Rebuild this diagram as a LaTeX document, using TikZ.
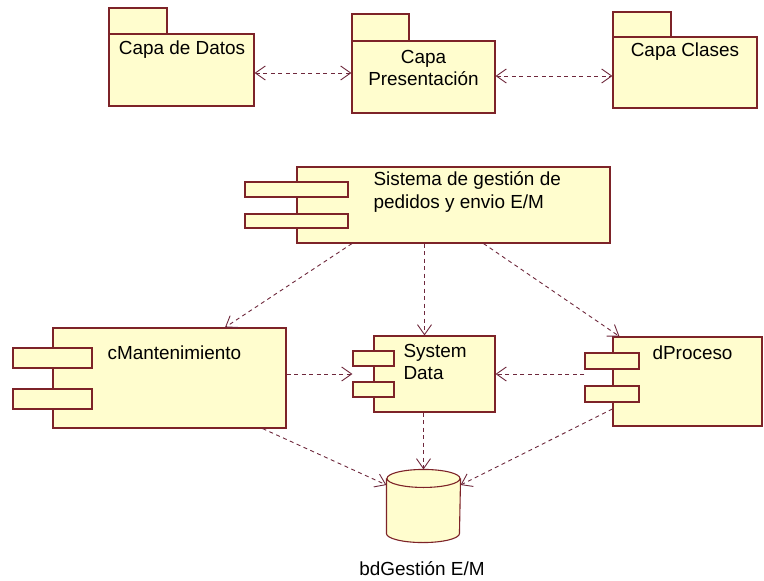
\documentclass[tikz,border=0pt]{standalone}
\usepackage{fontspec}
\setmainfont{Liberation Sans}
\usetikzlibrary{arrows.meta}
\definecolor{umlfill}{RGB}{255,253,206}
\definecolor{umlline}{RGB}{125,35,40}
\definecolor{deplinea}{RGB}{110,40,60}

\begin{document}
\begin{tikzpicture}[x=1bp,y=-1bp,line width=1.1bp,
  caja/.style={draw=umlline,fill=umlfill,inner sep=0pt},
  txt/.style={font=\fontsize{19}{22.5}\selectfont,inner sep=0pt,text=black},
  dep/.style={draw=deplinea,line width=0.9bp,dash pattern=on 4bp off 3.5bp,-{Straight Barb[length=10bp,width=14bp]}},
  depdoble/.style={dep,{Straight Barb[length=10bp,width=14bp]}-{Straight Barb[length=10bp,width=14bp]}}]
  \useasboundingbox (0,0) rectangle (764,581);
  % paquetes (capas)
  \node[caja,minimum width=58bp,minimum height=26bp] (datostab) at (138,21){};
  \node[caja,minimum width=145bp,minimum height=72bp] (datos) at (181.5,70){};
  \node[txt] (datoslbl) at (182,50){Capa de Datos};
  \node[caja,minimum width=57bp,minimum height=27bp] (prestab) at (380.5,27.5){};
  \node[caja,minimum width=143bp,minimum height=72bp] (pres) at (423.5,77){};
  \node[txt,align=center] (preslbl) at (423.5,68){Capa\\Presentación};
  \node[caja,minimum width=58bp,minimum height=25bp] (clasestab) at (642,24.5){};
  \node[caja,minimum width=144bp,minimum height=71bp] (clases) at (685,72.5){};
  \node[txt] (claseslbl) at (685,52){Capa Clases};
  % dependencias entre capas
  \coordinate (d1) at ([yshift=-3bp]datos.east);
  \draw[depdoble] (d1) -- (d1 -| pres.west);
  \coordinate (d2) at ([yshift=1bp]pres.east);
  \draw[depdoble] (d2) -- (d2 -| clases.west);
  % componentes
  \node[caja,minimum width=313bp,minimum height=76bp] (sistema) at (453.5,205){};
  \node[caja,minimum width=103bp,minimum height=15bp] (sistemaA) at (296.5,189.5){};
  \node[caja,minimum width=103bp,minimum height=14bp] (sistemaB) at (296.5,221){};
  \node[txt,align=left,anchor=west] (sistemalbl) at (373,192){Sistema de gestión de\\pedidos y envio E/M};
  \node[caja,minimum width=233bp,minimum height=100bp] (cmant) at (169.5,378){};
  \node[caja,minimum width=79bp,minimum height=20bp] (cmantA) at (52.5,358){};
  \node[caja,minimum width=79bp,minimum height=20bp] (cmantB) at (52.5,399){};
  \node[txt,anchor=west] (cmantlbl) at (107,353){cMantenimiento};
  \node[caja,minimum width=121bp,minimum height=76bp] (sysdata) at (434.5,374){};
  \node[caja,minimum width=41bp,minimum height=15bp] (sysdataA) at (373.5,358.5){};
  \node[caja,minimum width=41bp,minimum height=15bp] (sysdataB) at (373.5,389.5){};
  \node[txt,align=left,anchor=west] (sysdatalbl) at (403,362){System\\Data};
  \node[caja,minimum width=149bp,minimum height=89bp] (dproc) at (687.5,381.5){};
  \node[caja,minimum width=54bp,minimum height=16bp] (dprocA) at (612,361){};
  \node[caja,minimum width=54bp,minimum height=16bp] (dprocB) at (612,394){};
  \node[txt,anchor=west] (dproclbl) at (652,353){dProceso};
  % base de datos (cilindro)
  \node[minimum width=73bp,minimum height=72bp,inner sep=0pt] (bd) at (423.5,506){};
  \draw[caja] ([yshift=-9bp]bd.north west) -- ([yshift=9bp]bd.south west)
    arc[start angle=180,end angle=360,x radius=36.5bp,y radius=9bp] -- ([yshift=-9bp]bd.north east);
  \draw[caja] ([yshift=-9bp]bd.north) ellipse[x radius=36.5bp,y radius=9bp];
  \node[txt] (bdlbl) at (422,569){bdGestión E/M};
  % dependencias
  \draw[dep] ([xshift=-101.5bp]sistema.south) -- ([xshift=55.5bp]cmant.north);
  \coordinate (s2) at ([xshift=-10bp]sysdata.north);
  \draw[dep] (sistema.south -| s2) -- (s2);
  \draw[dep] ([xshift=30bp]sistema.south) -- ([xshift=7bp]dproc.north west);
  \coordinate (s3) at ([xshift=-21bp]sysdata.west);
  \draw[dep] (cmant.east |- s3) -- (s3);
  \draw[dep] ([xshift=-28bp]dproc.west |- sysdata.east) -- (sysdata.east);
  \draw[dep] (bd.north |- sysdata.south) -- (bd.north);
  \draw[dep] ([xshift=-24bp]cmant.south east) -- ([yshift=21bp]bd.west);
  \draw[dep] ([yshift=-27.5bp]dproc.west) -- ([yshift=21bp]bd.east);
\end{tikzpicture}
\end{document}
